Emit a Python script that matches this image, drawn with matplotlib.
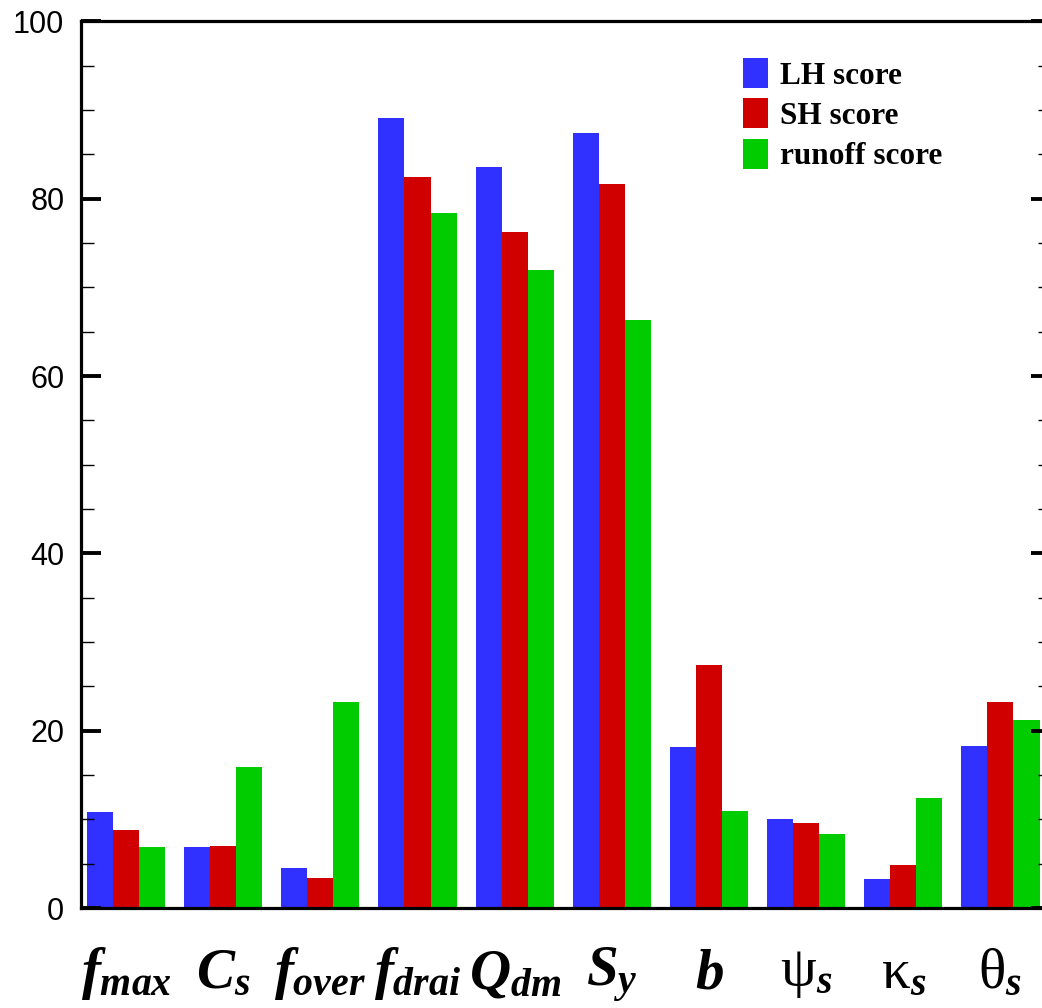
# Parameter sensitivity scores (LH, SH, runoff)
import numpy as np
import matplotlib
matplotlib.use('Agg')
import matplotlib.pyplot as plt
from matplotlib.ticker import MultipleLocator

plt.rcParams['mathtext.fontset'] = 'custom'
plt.rcParams['mathtext.rm'] = 'Liberation Serif'
plt.rcParams['mathtext.it'] = 'Liberation Serif:italic:bold'
plt.rcParams['mathtext.bf'] = 'Liberation Serif:italic:bold'

# data
params = [r'$f_{max}$', r'$C_s$', r'$f_{over}$', r'$f_{drai}$', r'$Q_{dm}$',
          r'$S_y$', r'$b$', r'$\mathrm{\psi}_s$', r'$\mathrm{\kappa}_s$', r'$\mathrm{\theta}_s$']
lh_score = [10.8, 6.9, 4.5, 89.1, 83.6, 87.4, 18.2, 10.0, 3.3, 18.3]
sh_score = [8.8, 7.0, 3.35, 82.5, 76.3, 81.7, 27.4, 9.55, 4.9, 23.2]
runoff_score = [6.9, 15.9, 23.2, 78.4, 72.0, 66.3, 10.9, 8.3, 12.4, 21.2]

x = np.arange(1, len(params) + 1)
w = 0.268

fig = plt.figure(figsize=(10.42, 10.08), dpi=100)
ax = fig.add_axes([81 / 1042, 100 / 1008, (1051 - 81) / 1042, 886.6 / 1008])

ax.bar(x - w, lh_score, w, color='#3030ff', label='LH score')
ax.bar(x, sh_score, w, color='#d00000', label='SH score')
ax.bar(x + w, runoff_score, w, color='#00cc00', label='runoff score')

ax.set_xlim(0.537, 10.52)
ax.set_ylim(0, 100)
ax.set_xticks(x)
ax.set_xticklabels(params, fontsize=41)
ax.tick_params(axis='x', length=0, pad=27)
ax.yaxis.set_major_locator(MultipleLocator(20))
ax.yaxis.set_minor_locator(MultipleLocator(5))
ax.tick_params(axis='y', which='major', direction='in', length=14.5, width=2.8,
               right=True, labelsize=22, pad=12)
ax.tick_params(axis='y', which='minor', direction='in', length=9.5, width=1.0,
               right=True)
for lab in ax.get_yticklabels():
    lab.set_family('Liberation Sans')
for s in ax.spines.values():
    s.set_linewidth(2.3)

ax.legend(loc='upper left', bbox_to_anchor=(743 / 1042, 1 - 58 / 1008),
          bbox_transform=fig.transFigure, frameon=False, borderpad=0,
          handlelength=0.8, handleheight=1.1, handletextpad=0.4,
          labelspacing=0.25, borderaxespad=0,
          prop={'family': 'Liberation Serif', 'weight': 'bold', 'size': 22.5})

fig.savefig('out.png', dpi=100)
